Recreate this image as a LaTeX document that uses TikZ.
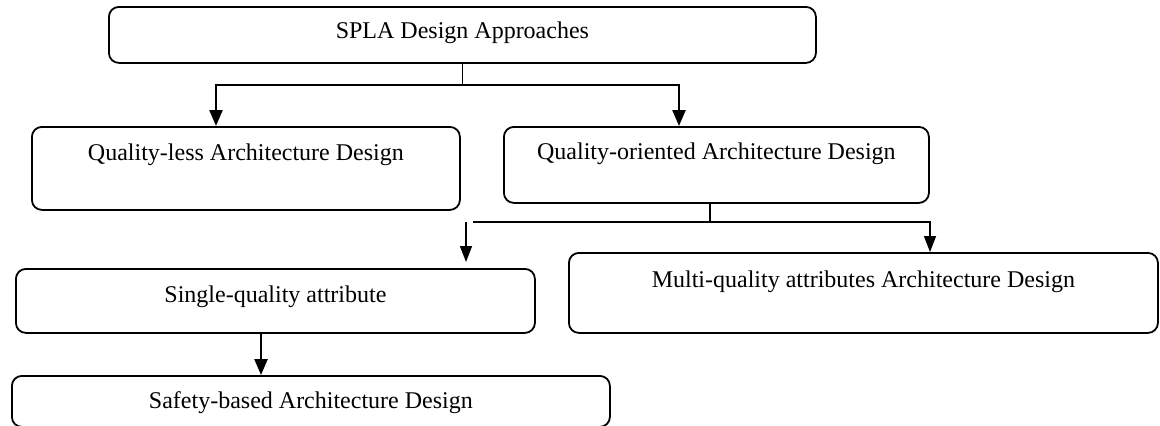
\documentclass[tikz,border=0pt]{standalone}
\usepackage{fontspec}
\setmainfont{Liberation Serif}
\usetikzlibrary{arrows.meta}

\begin{document}
\begin{tikzpicture}[x=0.5pt,y=-0.5pt,
    stage/.style={draw, rounded corners=5pt, line width=0.9pt, anchor=north west,
                  inner xsep=0pt, inner ysep=0pt, font=\fontsize{12}{14}\selectfont},
    flow/.style={line width=1.2pt, -{Triangle[length=8pt,width=6.5pt]}},
    thinflow/.style={line width=0.7pt, -{Triangle[length=8pt,width=6pt]}}]
  \useasboundingbox (0,0) rectangle (1160,425);
  % boxes
  \node[stage, minimum width=353.5pt, text height=16pt,   text depth=12pt]   (spla)   at (108,6)   {SPLA Design Approaches};
  \node[stage, minimum width=214pt,   text height=17pt,   text depth=24.5pt] (qless)  at (31,126)  {Quality-less Architecture Design};
  \node[stage, minimum width=212.5pt, text height=16.5pt, text depth=21.5pt] (qori)   at (503,126) {Quality-oriented Architecture Design};
  \node[stage, minimum width=259.5pt, text height=17pt,   text depth=15pt]   (single) at (15,268)  {Single-quality attribute};
  \node[stage, minimum width=294.5pt, text height=17.5pt, text depth=22.5pt] (multi)  at (568,252) {Multi-quality attributes Architecture Design};
  \node[stage, minimum width=299pt,   text height=16.5pt, text depth=9pt]    (safety) at (11,375)  {Safety-based Architecture Design};
  % first split
  \coordinate (j1l) at (216,85);
  \coordinate (j1r) at (679,85);
  \draw[line width=0.6pt] (spla.south) -- (spla.south |- j1l);
  \draw[flow] (spla.south |- j1l) -- (j1l) -- (j1l |- qless.north);
  \draw[flow] (spla.south |- j1r) -- (j1r) -- (j1r |- qori.north);
  % second split
  \coordinate (j2)  at (710,222);
  \coordinate (j2l) at (473,222);
  \coordinate (j2r) at (930,222);
  \draw[line width=0.6pt] (qori.south -| j2) -- (j2);
  \draw[thinflow] (j2l) -- (j2r) -- (j2r |- multi.north);
  \draw[thinflow] ([xshift=-3.5pt]j2l) -- ([xshift=-3.5pt,yshift=3pt]j2l |- single.north);
  % single to safety
  \coordinate (j3) at (261,0);
  \draw[flow] (single.south -| j3) -- (safety.north -| j3);
\end{tikzpicture}
\end{document}
